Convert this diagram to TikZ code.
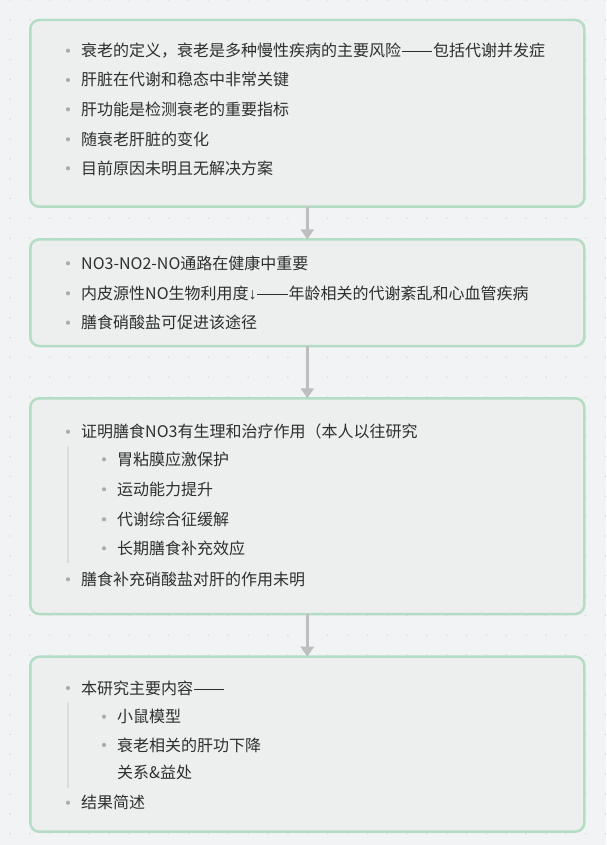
\documentclass[tikz,border=0pt]{standalone}
\usepackage{fontspec}
\setmainfont{Noto Sans CJK SC}
\newfontfamily\arrowfont{Liberation Sans}
\usetikzlibrary{arrows.meta}

\definecolor{pagebg}{HTML}{F2F3F5}
\definecolor{griddot}{HTML}{DCDDE1}
\definecolor{panelfill}{HTML}{ECEFEE}
\definecolor{panelline}{HTML}{B5DCC4}
\definecolor{flowgray}{HTML}{BEBEBE}
\definecolor{inktext}{HTML}{2E2E2E}
\definecolor{bulletgray}{HTML}{A9ACB3}
\definecolor{guidegray}{HTML}{DADCDD}

% full-width double dash
\newcommand\ddash{\hspace{0.05em}\rule[0.29em]{1.9em}{0.05em}\hspace{0.05em}}

% bullet point: name, x of text, y of glyph centre, text
\newcommand\bul[4]{%
  \fill[bulletgray] (#2-13,#3) circle (2.1);
  \node[entry] (#1) at (#2,#3+6) {#4};
}
% continuation line without a bullet
\newcommand\cont[4]{%
  \node[entry] (#1) at (#2,#3+6) {#4};
}

\begin{document}
\begin{tikzpicture}[x=1pt,y=-1pt,
  panel/.style={draw=panelline, fill=panelfill, line width=2.5pt,
    rounded corners=9pt, minimum width=554pt, inner sep=0pt, outer sep=0pt},
  entry/.style={anchor=base west, inner sep=0pt, text=inktext,
    font=\fontsize{16}{19}\selectfont},
  flow/.style={draw=flowgray, line width=3pt,
    -{Triangle[width=13pt,length=10pt]}},
  guide/.style={draw=guidegray, line width=1.5pt},
]
% page and dotted grid
\fill[pagebg] (0,0) rectangle (606,845);
\useasboundingbox (0,0) rectangle (606,845);
\foreach \i in {0,...,30}
  \foreach \j in {0,...,42}
    \fill[griddot] (10+\i*19.85,\j*19.85) circle (0.9);

% panels
\node[panel, minimum height=186.7pt] (b1) at (307.3,113.35) {};
\node[panel, minimum height=106.7pt] (b2) at (307.3,292.65) {};
\node[panel, minimum height=215.7pt] (b3) at (307.3,506.15) {};
\node[panel, minimum height=175pt]   (b4) at (307.3,744.2) {};

% connectors
\draw[flow] (b1.south) -- (b2.north);
\draw[flow] (b2.south) -- (b3.north);
\draw[flow] (b3.south) -- (b4.north);

% panel 1
\bul{a1}{81}{50.7}{衰老的定义，衰老是多种慢性疾病的主要风险\ddash 包括代谢并发症}
\bul{a2}{81}{80}{肝脏在代谢和稳态中非常关键}
\bul{a3}{81}{109.3}{肝功能是检测衰老的重要指标}
\bul{a4}{81}{139.3}{随衰老肝脏的变化}
\bul{a5}{81}{168.3}{目前原因未明且无解决方案}

% panel 2
\bul{c1}{81}{263.3}{NO3-NO2-NO通路在健康中重要}
\bul{c2}{81}{293.3}{内皮源性NO生物利用度{\arrowfont ↓}\ddash 年龄相关的代谢紊乱和心血管疾病}
\bul{c3}{81}{322.7}{膳食硝酸盐可促进该途径}

% panel 3
\draw[guide] (68,446) -- (68,563);
\bul{d1}{81}{431.7}{证明膳食NO3有生理和治疗作用（本人以往研究}
\bul{d2}{117}{459.3}{胃粘膜应激保护}
\bul{d3}{117}{489.3}{运动能力提升}
\bul{d4}{117}{519.3}{代谢综合征缓解}
\bul{d5}{117}{548.3}{长期膳食补充效应}
\bul{d6}{81}{579.3}{膳食补充硝酸盐对肝的作用未明}

% panel 4
\draw[guide] (68,701.7) -- (68,787.7);
\bul{e1}{81}{688}{本研究主要内容\ddash}
\bul{e2}{117}{716.7}{小鼠模型}
\bul{e3}{117}{745}{衰老相关的肝功下降}
\cont{e4}{117}{772.7}{关系\&益处}
\bul{e5}{81}{802.7}{结果简述}
\end{tikzpicture}
\end{document}
